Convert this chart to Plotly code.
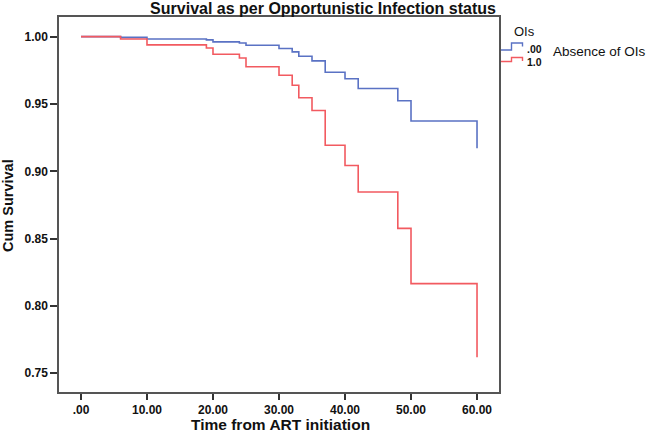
import plotly.graph_objects as go

# ---- data ----
time_points = [0, 6, 10, 19, 20, 24, 25, 30, 32, 33, 35, 37, 40, 42, 48, 50, 60]
surv_absent = [1.000, 0.9995, 0.9983, 0.9976, 0.9961, 0.9953, 0.9936, 0.9912, 0.9887,
               0.9854, 0.9820, 0.9736, 0.9687, 0.9615, 0.9524, 0.9374, 0.9172]
surv_present = [1.000, 0.9983, 0.9939, 0.9916, 0.9869, 0.9842, 0.9776, 0.9713, 0.9639,
                0.9546, 0.9452, 0.9193, 0.9043, 0.8846, 0.8576, 0.8166, 0.7620]
x_tickvals = [0, 10, 20, 30, 40, 50, 60]
x_ticktext = [".00", "10.00", "20.00", "30.00", "40.00", "50.00", "60.00"]
y_tickvals = [0.75, 0.80, 0.85, 0.90, 0.95, 1.00]
y_ticktext = ["0.75", "0.80", "0.85", "0.90", "0.95", "1.00"]
group_labels = [".00", "1.0"]

BLUE = "#5a72c4"
RED = "#f25a60"
FONT = "Arial, Liberation Sans, sans-serif"

W, H = 650, 434
L, R, T, B = 59, 151, 17, 42
PW, PH = W - L - R, H - T - B


def px(x):
    return (x - L) / PW


def py(y):
    return (H - B - y) / PH


fig = go.Figure()
fig.add_trace(go.Scatter(x=time_points, y=surv_absent, mode="lines",
                         line=dict(color=BLUE, width=1.6, shape="hv"),
                         name=group_labels[0], showlegend=False, hoverinfo="skip"))
fig.add_trace(go.Scatter(x=time_points, y=surv_present, mode="lines",
                         line=dict(color=RED, width=1.6, shape="hv"),
                         name=group_labels[1], showlegend=False, hoverinfo="skip"))

axis_common = dict(showgrid=False, zeroline=False, showline=True, mirror=True,
                   linecolor="#555555", linewidth=1.5, ticks="outside",
                   tickcolor="#333333", tickwidth=1.5,
                   tickfont=dict(family=FONT, size=12, color="#111111", weight="bold"))

fig.update_xaxes(range=[-3.33, 63.33], tickvals=x_tickvals, ticktext=x_ticktext,
                 ticklen=6, **axis_common)
fig.update_yaxes(range=[0.7361, 1.0146], tickvals=y_tickvals, ticktext=y_ticktext,
                 ticklen=7, **axis_common)

annotations = [
    dict(text="<b>Time from ART initiation</b>", xref="paper", yref="paper",
         x=px(280), y=py(424.5), xanchor="center", yanchor="middle", showarrow=False,
         font=dict(family=FONT, size=15.5, color="#111111")),
    dict(text="<b>Cum Survival</b>", xref="paper", yref="paper", textangle=-90,
         x=px(8), y=py(206), xanchor="center", yanchor="middle", showarrow=False,
         font=dict(family=FONT, size=14.5, color="#111111")),
    dict(text="OIs", xref="paper", yref="paper", x=px(524), y=py(31),
         xanchor="center", yanchor="middle", showarrow=False,
         font=dict(family=FONT, size=13, color="#111111")),
    dict(text="<b>" + group_labels[0] + "</b>", xref="paper", yref="paper", x=px(525), y=py(49),
         xanchor="left", yanchor="middle", showarrow=False,
         font=dict(family=FONT, size=10.5, color="#111111")),
    dict(text="<b>" + group_labels[1] + "</b>", xref="paper", yref="paper", x=px(525), y=py(62),
         xanchor="left", yanchor="middle", showarrow=False,
         font=dict(family=FONT, size=10.5, color="#111111")),
    dict(text="Absence of OIs", xref="paper", yref="paper", x=px(551), y=py(51),
         xanchor="left", yanchor="middle", showarrow=False,
         font=dict(family=FONT, size=13.5, color="#111111")),
]


def step_path(y_low, y_high, y_end):
    return (f"M {px(501)},{py(y_low)} H {px(511.5)} V {py(y_high)} "
            f"H {px(522.5)} V {py(y_end)}")


shapes = [
    dict(type="path", xref="paper", yref="paper", path=step_path(50, 43, 46.5),
         line=dict(color=BLUE, width=1.4)),
    dict(type="path", xref="paper", yref="paper", path=step_path(61.5, 57.5, 61),
         line=dict(color=RED, width=1.4)),
]

fig.update_layout(
    width=W, height=H,
    margin=dict(l=L, r=R, t=T, b=B),
    paper_bgcolor="white", plot_bgcolor="white",
    title=dict(text="<b>Survival as per Opportunistic Infection status</b>",
               x=0.497, xref="container", xanchor="center",
               y=1 - 8 / H, yref="container", yanchor="middle",
               font=dict(family=FONT, size=16, color="#111111")),
    annotations=annotations,
    shapes=shapes,
    showlegend=False,
)

fig.write_html("out.html", config={"displayModeBar": False},
               post_script="document.body.style.margin='0';document.body.style.padding='0';")
